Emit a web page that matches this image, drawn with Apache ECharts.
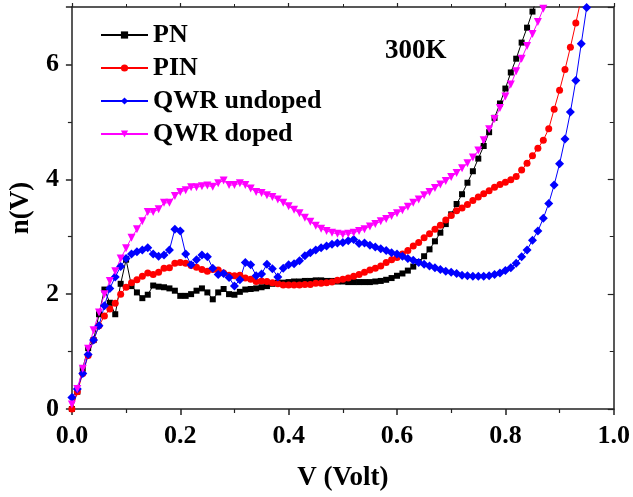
<!DOCTYPE html>
<html>
<head>
<meta charset="utf-8">
<script src="https://cdn.jsdelivr.net/npm/echarts@6/dist/echarts.min.js"></script>
<style>html,body{margin:0;padding:0;background:#fff}#c{width:633px;height:497px}</style>
</head>
<body>
<div id="c"></div>
<script>
// Voltage step of the measured data (V)
const step = 0.01;
const seriesNames = ['PN', 'PIN', 'QWR undoped', 'QWR doped'];
const xTicks = ['0.0', '0.2', '0.4', '0.6', '0.8', '1.0'];
const yTicks = ['0', '2', '4', '6'];

// n(V) values, one per voltage step starting at 0 V
const pnValues = [0, 0.3, 0.71, 1.06, 1.2, 1.65, 2.08, 1.85, 1.65, 2.18, 2.6, 2.14, 2.03, 1.93, 1.99, 2.15,
  2.13, 2.12, 2.1, 2.06, 1.97, 1.97, 2.0, 2.06, 2.1, 2.03, 1.91, 2.03, 2.09, 2.0,
  1.99, 2.04, 2.08, 2.09, 2.1, 2.12, 2.14, 2.18, 2.2, 2.2, 2.21, 2.22, 2.22, 2.23, 2.23,
  2.24, 2.24, 2.23, 2.23, 2.22, 2.22, 2.21, 2.21, 2.21, 2.21, 2.21, 2.22, 2.23, 2.25, 2.28,
  2.32, 2.36, 2.41, 2.48, 2.56, 2.66, 2.78, 2.92, 3.07, 3.22, 3.39, 3.57, 3.74, 3.94, 4.14,
  4.36, 4.58, 4.82, 5.07, 5.32, 5.58, 5.86, 6.1, 6.38, 6.64, 6.92, 7.2];
const pinValues = [0, 0.3, 0.62, 0.93, 1.2, 1.45, 1.62, 1.74, 1.84, 2.0, 2.12, 2.2, 2.25, 2.31, 2.37,
  2.34, 2.38, 2.45, 2.46, 2.54, 2.55, 2.54, 2.5, 2.47, 2.43, 2.4, 2.43, 2.42, 2.37, 2.33,
  2.32, 2.33, 2.28, 2.26, 2.22, 2.23, 2.22, 2.2, 2.18, 2.16, 2.16, 2.16, 2.16, 2.17, 2.17,
  2.19, 2.19, 2.2, 2.21, 2.24, 2.26, 2.28, 2.31, 2.34, 2.38, 2.42, 2.45, 2.49, 2.55, 2.6,
  2.64, 2.7, 2.76, 2.84, 2.9, 2.98, 3.05, 3.13, 3.2, 3.29, 3.37, 3.45, 3.5, 3.56, 3.63,
  3.69, 3.75, 3.8, 3.86, 3.91, 3.95, 3.99, 4.05, 4.16, 4.28, 4.41, 4.54, 4.68, 4.88, 5.22,
  5.55, 5.91, 6.3, 6.72, 7.15];
const qwrUndopedValues = [0.2, 0.35, 0.62, 0.95, 1.2, 1.45, 1.8, 2.1, 2.3, 2.48, 2.62, 2.7, 2.74, 2.77, 2.81,
  2.7, 2.66, 2.68, 2.77, 3.13, 3.1, 2.7, 2.51, 2.6, 2.68, 2.65, 2.45, 2.34, 2.36, 2.29,
  2.14, 2.25, 2.55, 2.51, 2.32, 2.35, 2.52, 2.44, 2.3, 2.45, 2.51, 2.53, 2.58, 2.67, 2.72,
  2.77, 2.81, 2.84, 2.87, 2.89, 2.9, 2.93, 2.95, 2.88, 2.89, 2.85, 2.82, 2.79, 2.76, 2.72,
  2.7, 2.66, 2.62, 2.59, 2.55, 2.52, 2.49, 2.46, 2.43, 2.4, 2.38, 2.36, 2.33, 2.32, 2.31,
  2.31, 2.31, 2.32, 2.34, 2.37, 2.41, 2.46, 2.54, 2.65, 2.77, 2.94, 3.1, 3.32, 3.58, 3.9,
  4.27, 4.7, 5.17, 5.72, 6.36, 6.99, 7.6];
const qwrDopedValues = [0.08, 0.35, 0.7, 1.05, 1.37, 1.68, 2.0, 2.23, 2.4, 2.62, 2.8, 2.98, 3.13, 3.27, 3.43,
  3.43, 3.48, 3.59, 3.59, 3.71, 3.78, 3.81, 3.86, 3.86, 3.88, 3.89, 3.87, 3.93, 3.98, 3.9,
  3.9, 3.93, 3.9, 3.84, 3.78, 3.76, 3.72, 3.69, 3.65, 3.59, 3.53, 3.47, 3.41, 3.33, 3.26,
  3.19, 3.14, 3.1, 3.07, 3.05, 3.04, 3.05, 3.07, 3.1, 3.13, 3.18, 3.22, 3.27, 3.31, 3.36,
  3.41, 3.46, 3.52, 3.59, 3.65, 3.72, 3.78, 3.85, 3.91, 3.97, 4.04, 4.11, 4.19, 4.28, 4.38,
  4.5, 4.68, 4.87, 5.05, 5.24, 5.44, 5.65, 5.88, 6.1, 6.32, 6.53, 6.74, 6.97, 7.2];

function pairs(vals) {
  return vals.map((v, i) => [+(i * step).toFixed(2), v]);
}

const FONT = 'Liberation Serif';
const chart = echarts.init(document.getElementById('c'), null, {renderer: 'canvas'});

const commonLabel = {fontFamily: FONT, fontWeight: 'bold', fontSize: 26, color: '#000'};

function mkSeries(name, vals, color, symbol, size, rotate) {
  return {
    name: name,
    type: 'line',
    data: pairs(vals),
    symbol: symbol,
    symbolSize: size,
    symbolRotate: rotate || 0,
    showAllSymbol: true,
    clip: true,
    lineStyle: {color: color, width: 1},
    itemStyle: {color: color},
    emphasis: {disabled: true},
    animation: false
  };
}

chart.setOption({
  backgroundColor: '#fff',
  animation: false,
  grid: {left: 70, right: 17, top: 7, bottom: 87, containLabel: false},
  legend: {
    orient: 'vertical',
    left: 95,
    top: 17,
    itemWidth: 47,
    itemHeight: 9,
    itemGap: 7,
    textStyle: {fontFamily: FONT, fontWeight: 'bold', fontSize: 26, color: '#000'},
    data: seriesNames
  },
  graphic: [{
    type: 'text',
    left: 385,
    top: 38,
    style: {text: '300K', font: 'bold 27px "Liberation Serif"', fill: '#000'}
  }],
  xAxis: [{
    type: 'value',
    min: 0, max: 1, interval: 0.2,
    name: 'V (Volt)',
    nameLocation: 'middle',
    nameGap: 56,
    nameTextStyle: {fontFamily: FONT, fontWeight: 'bold', fontSize: 27, color: '#000'},
    axisLine: {show: true, onZero: false, lineStyle: {color: '#222', width: 1.5}},
    axisTick: {show: true, inside: false, length: 6, lineStyle: {color: '#222', width: 1.5}},
    minorTick: {show: true, splitNumber: 2, length: 4, lineStyle: {color: '#222', width: 1.2}},
    splitLine: {show: false},
    axisLabel: Object.assign({margin: 14, formatter: v => xTicks[Math.round(v / 0.2)] || ''}, commonLabel)
  }, {
    type: 'value', position: 'top',
    min: 0, max: 1, interval: 0.2,
    axisLine: {show: true, onZero: false, lineStyle: {color: '#222', width: 1.5}},
    axisTick: {show: true, inside: false, length: 4, lineStyle: {color: '#222', width: 1.2}},
    minorTick: {show: true, splitNumber: 2, length: 3, lineStyle: {color: '#222', width: 1}},
    splitLine: {show: false},
    axisLabel: {show: false}
  }],
  yAxis: [{
    type: 'value',
    min: 0, max: 7, interval: 2,
    name: 'n(V)',
    nameLocation: 'middle',
    nameGap: 34,
    nameRotate: 90,
    nameTextStyle: {fontFamily: FONT, fontWeight: 'bold', fontSize: 27, color: '#000'},
    axisLine: {show: true, onZero: false, lineStyle: {color: '#222', width: 1.5}},
    axisTick: {show: true, inside: false, length: 6, lineStyle: {color: '#222', width: 1.5}},
    minorTick: {show: true, splitNumber: 2, length: 4, lineStyle: {color: '#222', width: 1.2}},
    splitLine: {show: false},
    axisLabel: Object.assign({margin: 13, showMaxLabel: false, formatter: v => yTicks[v / 2] || ''}, commonLabel)
  }, {
    type: 'value', position: 'right',
    min: 0, max: 7, interval: 2,
    axisLine: {show: true, onZero: false, lineStyle: {color: '#222', width: 1.5}},
    axisTick: {show: true, inside: true, length: 6, lineStyle: {color: '#222', width: 1.2}},
    minorTick: {show: true, splitNumber: 2, length: 4, lineStyle: {color: '#222', width: 1}},
    splitLine: {show: false},
    axisLabel: {show: false}
  }],
  series: [
    mkSeries(seriesNames[0], pnValues, '#000000', 'rect', 6),
    mkSeries(seriesNames[1], pinValues, '#ff0000', 'circle', 7),
    mkSeries(seriesNames[2], qwrUndopedValues, '#0000ff', 'diamond', 9),
    mkSeries(seriesNames[3], qwrDopedValues, '#ff00ff', 'triangle', 8, 180)
  ]
});
</script>
</body>
</html>
